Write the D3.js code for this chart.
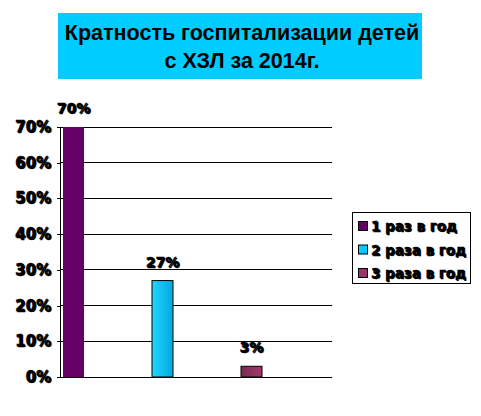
<!DOCTYPE html>
<html><head><meta charset="utf-8">
<script src="https://cdn.jsdelivr.net/npm/d3@7"></script>
<style>
html,body{margin:0;padding:0;background:#fff;}
svg{display:block;}
text{font-family:"Liberation Sans",Arial,sans-serif;font-weight:bold;}
text.lab{font-family:"DejaVu Sans",sans-serif;}
</style></head>
<body>
<svg id="chart" width="481" height="416"></svg>
<script>
const titleLines = ["Кратность госпитализации детей", "с ХЗЛ за 2014г."];
const categories = ["1 раз в год", "2 раза в год", "3 раза в год"];
const values = [0.70, 0.27, 0.03];
const valueLabels = ["70%", "27%", "3%"];
const yTicks = [0, 0.1, 0.2, 0.3, 0.4, 0.5, 0.6, 0.7];
const colors = ["#660066", "#00CCFF", "#993366"];

const svg = d3.select("#chart");
const defs = svg.append("defs");
const g2 = defs.append("linearGradient").attr("id", "grad2").attr("x1", "0").attr("x2", "1").attr("y1", "0").attr("y2", "0");
g2.append("stop").attr("offset", "0").attr("stop-color", "#22D4FF");
g2.append("stop").attr("offset", "1").attr("stop-color", "#00A8E0");
const g3 = defs.append("linearGradient").attr("id", "grad3").attr("x1", "0").attr("x2", "1").attr("y1", "0").attr("y2", "0");
g3.append("stop").attr("offset", "0").attr("stop-color", "#7A2A55");
g3.append("stop").attr("offset", "1").attr("stop-color", "#A33A6C");
const fills = [colors[0], "url(#grad2)", "url(#grad3)"];

function shadowText(sel, x, y, txt, size, anchor) {
  const grp = sel.append("g");
  [[1, 1], [0, 0]].forEach(([dx, dy]) => {
    grp.append("text").attr("class", "lab").attr("x", x + dx).attr("y", y + dy)
      .attr("font-size", size).attr("text-anchor", anchor)
      .attr("fill", "#000").attr("stroke", "#000").attr("stroke-width", 0.3)
      .text(txt);
  });
  return grp;
}

// Title
svg.append("rect").attr("x", 58).attr("y", 13).attr("width", 364).attr("height", 66).attr("fill", "#00CCFF");
titleLines.forEach((t, i) => {
  svg.append("text").attr("x", 242).attr("y", 40 + i * 28)
    .attr("text-anchor", "middle").attr("font-size", 21.5).attr("fill", "#000")
    .text(t);
});

// Scales
const y = d3.scaleLinear().domain([0, 0.7]).range([377, 127]);
const x = d3.scaleBand().domain(categories).range([60, 327]).paddingInner(0).paddingOuter(0);
const plotRight = 332;

svg.append("g").selectAll("line").data(yTicks).join("line")
  .attr("x1", 60).attr("x2", plotRight)
  .attr("y1", d => y(d)).attr("y2", d => y(d))
  .attr("stroke", "#000").attr("stroke-width", 1).attr("shape-rendering", "crispEdges");

const yAxis = d3.axisLeft(y).tickValues(yTicks).tickFormat(d3.format(".0%")).tickSize(3).tickPadding(5);
const ax = svg.append("g").attr("transform", "translate(60,0)").call(yAxis);
ax.select(".domain").attr("stroke", "#000").attr("shape-rendering", "crispEdges");
ax.selectAll(".tick line").attr("stroke", "#000").attr("shape-rendering", "crispEdges");
ax.selectAll(".tick text").remove();
yTicks.forEach(t => {
  shadowText(svg, 51, y(t) + 5, d3.format(".0%")(t), 15, "end");
});

const barW = 21;
svg.append("g").selectAll("rect").data(values).join("rect")
  .attr("x", (d, i) => x(categories[i]) + 3)
  .attr("y", d => y(d))
  .attr("width", barW)
  .attr("height", d => y(0) - y(d))
  .attr("fill", (d, i) => fills[i])
  .attr("stroke", (d, i) => i === 0 ? "none" : "#000")
  .attr("stroke-width", 1);

values.forEach((v, i) => {
  const cx = x(categories[i]) + 3 + barW / 2;
  shadowText(svg, cx, y(v) - 14, valueLabels[i], 14, "middle");
});

// legend
svg.append("rect").attr("x", 352.5).attr("y", 212.5).attr("width", 118).attr("height", 71)
  .attr("fill", "#fff").attr("stroke", "#000").attr("stroke-width", 1);
categories.forEach((c, i) => {
  const cy = 226 + i * 23.5;
  svg.append("rect").attr("x", 358.5).attr("y", cy - 4.5).attr("width", 9).attr("height", 9)
    .attr("fill", colors[i]).attr("stroke", "#000").attr("stroke-width", 1);
  shadowText(svg, 371, cy + 5, c, 13.5, "start");
});
</script>
</body></html>
